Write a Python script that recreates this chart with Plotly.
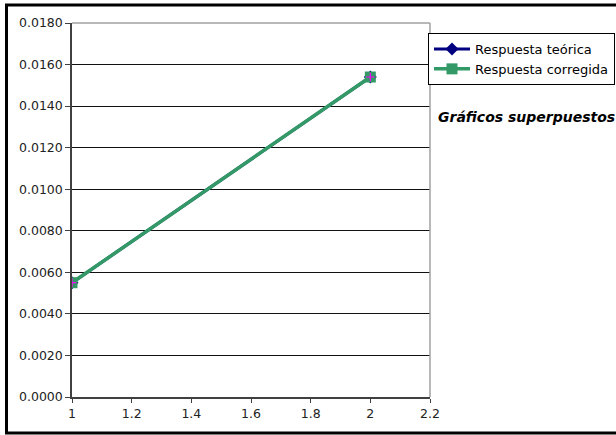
import plotly.graph_objects as go

# Data
x_vals = [1, 2]
respuesta_teorica = [0.0055, 0.0154]
respuesta_corregida = [0.0055, 0.0154]

FONT = "DejaVu Sans, Arial, Liberation Sans"

fig = go.Figure()

fig.add_trace(go.Scatter(
    x=x_vals, y=respuesta_teorica, mode="lines+markers",
    name="Respuesta teórica",
    line=dict(color="#000080", width=3),
    marker=dict(symbol="diamond", size=10, color="#000080"),
))
fig.add_trace(go.Scatter(
    x=x_vals, y=respuesta_corregida, mode="lines+markers",
    name="Respuesta corregida",
    line=dict(color="#339966", width=3.5),
    marker=dict(symbol="square", size=11, color="#339966"),
))
# magenta cross drawn over the corrected-series markers
fig.add_trace(go.Scatter(
    x=x_vals, y=respuesta_corregida, mode="markers",
    showlegend=False, hoverinfo="skip",
    marker=dict(symbol="cross-thin", size=6, color="#FF00FF",
                line=dict(color="#FF00FF", width=1.2)),
))

W, H = 616, 435
L, R, T, B = 72, 186, 23, 38
pw, ph = W - L - R, H - T - B


def px_to_paper_x(px):
    return (px - L) / pw


def px_to_paper_y(py):
    return (H - B - py) / ph


# outer frame (left, top, bottom edges)
frame_color = "#000000"
fig.add_shape(type="line", xref="paper", yref="paper",
              x0=px_to_paper_x(6.5), x1=px_to_paper_x(6.5),
              y0=px_to_paper_y(5), y1=px_to_paper_y(433),
              line=dict(color=frame_color, width=3))
fig.add_shape(type="line", xref="paper", yref="paper",
              x0=px_to_paper_x(5), x1=px_to_paper_x(630),
              y0=px_to_paper_y(5), y1=px_to_paper_y(5),
              line=dict(color=frame_color, width=3))
fig.add_shape(type="line", xref="paper", yref="paper",
              x0=px_to_paper_x(5), x1=px_to_paper_x(630),
              y0=px_to_paper_y(433), y1=px_to_paper_y(433),
              line=dict(color=frame_color, width=3))
# plot area top and right borders
fig.add_shape(type="line", xref="paper", yref="paper",
              x0=0, x1=1, y0=1, y1=1,
              line=dict(color="#A0A0A0", width=1.5))
fig.add_shape(type="line", xref="paper", yref="paper",
              x0=1, x1=1, y0=0, y1=1,
              line=dict(color="#A0A0A0", width=1.5))

fig.add_annotation(
    text="<b><i>Gráficos superpuestos</i></b>",
    xref="paper", yref="paper",
    x=px_to_paper_x(436), y=px_to_paper_y(117),
    xanchor="left", yanchor="middle", showarrow=False,
    font=dict(family=FONT, size=14, color="#000000"),
)

fig.update_layout(
    width=W, height=H,
    margin=dict(l=L, r=R, t=T, b=B, autoexpand=False),
    paper_bgcolor="white", plot_bgcolor="white",
    font=dict(family=FONT, size=12, color="#222222"),
    showlegend=True,
    legend=dict(
        x=px_to_paper_x(428), y=px_to_paper_y(33),
        xanchor="left", yanchor="top",
        bgcolor="white", bordercolor="#000000", borderwidth=1,
        font=dict(family=FONT, size=13, color="#000000"),
        itemwidth=36, tracegroupgap=0,
    ),
    xaxis=dict(
        range=[1, 2.2], dtick=0.2, tick0=1, automargin=False,
        showgrid=False, zeroline=False,
        showline=True, linecolor="#404040", linewidth=1.5,
        ticks="outside", ticklen=4, tickcolor="#404040",
        tickfont=dict(family=FONT, size=12.5, color="#222222"),
    ),
    yaxis=dict(
        range=[0, 0.018], dtick=0.002, tick0=0, tickformat=".4f",
        automargin=False,
        showgrid=True, gridcolor="#111111", gridwidth=1,
        zeroline=False,
        showline=True, linecolor="#404040", linewidth=1.5,
        ticks="outside", ticklen=5, tickcolor="#404040",
        tickfont=dict(family=FONT, size=12.5, color="#222222"),
    ),
)

fig.write_html("out.html")
